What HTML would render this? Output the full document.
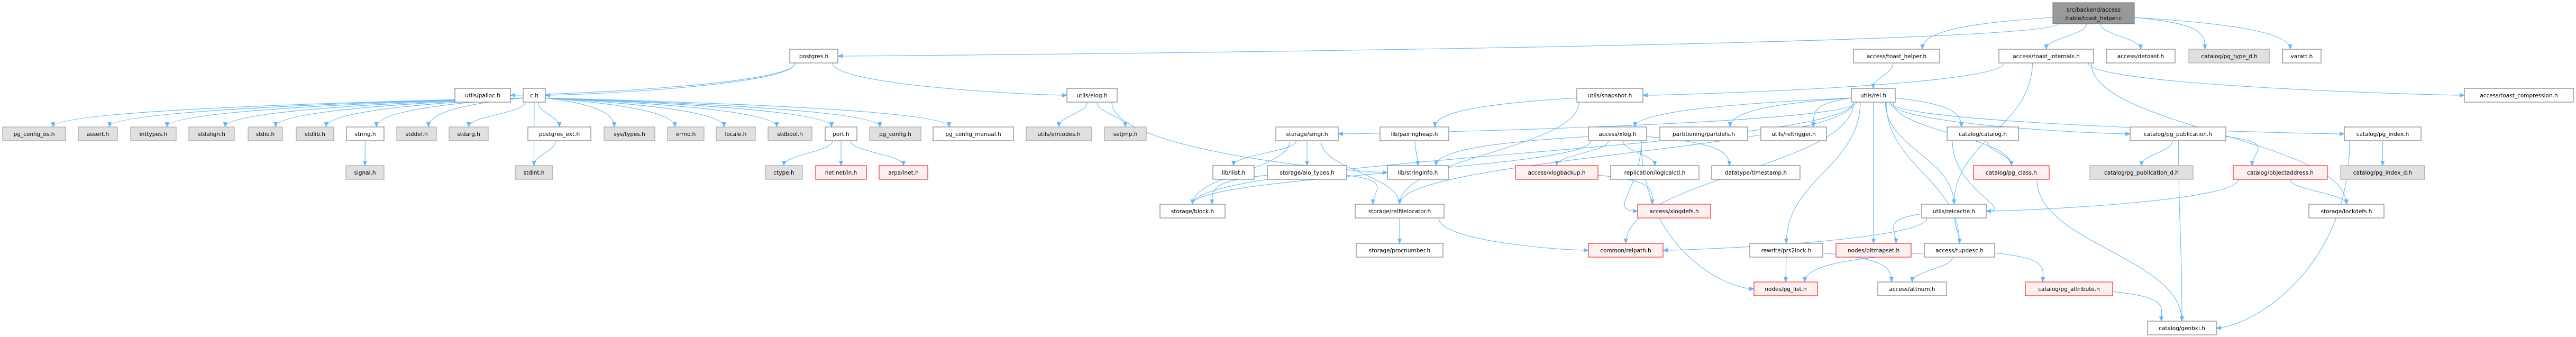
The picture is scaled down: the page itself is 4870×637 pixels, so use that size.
<!DOCTYPE html>
<html><head><meta charset="utf-8">
<style>
html,body{margin:0;padding:0;background:#fff;}
svg{display:block;}
text{font-family:"DejaVu Sans","Liberation Sans",sans-serif;font-size:10.5px;fill:#000;}
.w{fill:#fff;stroke:#666;}
.g{fill:#e0e0e0;stroke:#999;}
.r{fill:#fff0f0;stroke:#f00;}
.m{fill:#999;stroke:#666;}
.e{fill:none;stroke:#63b8ff;stroke-width:1.1;}
</style></head><body>
<svg id="s" width="4870" height="637" viewBox="0 0 4870 637" xmlns="http://www.w3.org/2000/svg">
<defs><marker id="a" viewBox="0 0 10 10" refX="10" refY="5" markerWidth="9" markerHeight="9" orient="auto-start-reverse" markerUnits="userSpaceOnUse"><path d="M0,1 L10,5 L0,9 z" fill="#63b8ff" stroke="#63b8ff"/></marker></defs>
<g id="edges"></g>
<g id="nodes">
<rect class="m" x="3881" y="5" width="154" height="40"/><text x="3958" y="22" text-anchor="middle">src/backend/access</text><text x="3958" y="38" text-anchor="middle">/table/toast_helper.c</text>
<rect class="w" x="1493" y="93" width="91" height="26"/><text x="1538.5" y="110" text-anchor="middle">postgres.h</text>
<rect class="w" x="3504" y="93" width="163" height="26"/><text x="3585.5" y="110" text-anchor="middle">access/toast_helper.h</text>
<rect class="w" x="3779" y="93" width="179" height="26"/><text x="3868.5" y="110" text-anchor="middle">access/toast_internals.h</text>
<rect class="w" x="3982" y="93" width="130" height="26"/><text x="4047" y="110" text-anchor="middle">access/detoast.h</text>
<rect class="g" x="4138" y="93" width="153" height="26"/><text x="4214.5" y="110" text-anchor="middle">catalog/pg_type_d.h</text>
<rect class="w" x="4315" y="93" width="73" height="26"/><text x="4351.5" y="110" text-anchor="middle">varatt.h</text>
<rect class="w" x="860" y="167" width="105" height="26"/><text x="912.5" y="184" text-anchor="middle">utils/palloc.h</text>
<rect class="w" x="989" y="167" width="42" height="26"/><text x="1010" y="184" text-anchor="middle">c.h</text>
<rect class="w" x="2017" y="167" width="95" height="26"/><text x="2064.5" y="184" text-anchor="middle">utils/elog.h</text>
<rect class="w" x="2981" y="167" width="125" height="26"/><text x="3043.5" y="184" text-anchor="middle">utils/snapshot.h</text>
<rect class="w" x="3500" y="167" width="83" height="26"/><text x="3541.5" y="184" text-anchor="middle">utils/rel.h</text>
<rect class="w" x="4659" y="167" width="206" height="26"/><text x="4762" y="184" text-anchor="middle">access/toast_compression.h</text>
<rect class="g" x="5" y="240" width="119" height="26"/><text x="64.5" y="257" text-anchor="middle">pg_config_os.h</text>
<rect class="g" x="148" y="240" width="74" height="26"/><text x="185" y="257" text-anchor="middle">assert.h</text>
<rect class="g" x="247" y="240" width="86" height="26"/><text x="290" y="257" text-anchor="middle">inttypes.h</text>
<rect class="g" x="357" y="240" width="86" height="26"/><text x="400" y="257" text-anchor="middle">stdalign.h</text>
<rect class="g" x="469" y="240" width="65" height="26"/><text x="501.5" y="257" text-anchor="middle">stdio.h</text>
<rect class="g" x="560" y="240" width="71" height="26"/><text x="595.5" y="257" text-anchor="middle">stdlib.h</text>
<rect class="w" x="655" y="240" width="71" height="26"/><text x="690.5" y="257" text-anchor="middle">string.h</text>
<rect class="g" x="750" y="240" width="75" height="26"/><text x="787.5" y="257" text-anchor="middle">stddef.h</text>
<rect class="g" x="849" y="240" width="74" height="26"/><text x="886" y="257" text-anchor="middle">stdarg.h</text>
<rect class="w" x="998" y="240" width="119" height="26"/><text x="1057.5" y="257" text-anchor="middle">postgres_ext.h</text>
<rect class="g" x="1142" y="240" width="96" height="26"/><text x="1190" y="257" text-anchor="middle">sys/types.h</text>
<rect class="g" x="1262" y="240" width="69" height="26"/><text x="1296.5" y="257" text-anchor="middle">errno.h</text>
<rect class="g" x="1354" y="240" width="74" height="26"/><text x="1391" y="257" text-anchor="middle">locale.h</text>
<rect class="g" x="1452" y="240" width="83" height="26"/><text x="1493.5" y="257" text-anchor="middle">stdbool.h</text>
<rect class="w" x="1560" y="240" width="60" height="26"/><text x="1590" y="257" text-anchor="middle">port.h</text>
<rect class="g" x="1644" y="240" width="97" height="26"/><text x="1692.5" y="257" text-anchor="middle">pg_config.h</text>
<rect class="w" x="1764" y="240" width="152" height="26"/><text x="1840" y="257" text-anchor="middle">pg_config_manual.h</text>
<rect class="g" x="1940" y="240" width="124" height="26"/><text x="2002" y="257" text-anchor="middle">utils/errcodes.h</text>
<rect class="g" x="2088" y="240" width="79" height="26"/><text x="2127.5" y="257" text-anchor="middle">setjmp.h</text>
<rect class="w" x="2412" y="240" width="118" height="26"/><text x="2471" y="257" text-anchor="middle">storage/smgr.h</text>
<rect class="w" x="2609" y="240" width="130" height="26"/><text x="2674" y="257" text-anchor="middle">lib/pairingheap.h</text>
<rect class="w" x="3003" y="240" width="110" height="26"/><text x="3058" y="257" text-anchor="middle">access/xlog.h</text>
<rect class="w" x="3138" y="240" width="166" height="26"/><text x="3221" y="257" text-anchor="middle">partitioning/partdefs.h</text>
<rect class="w" x="3329" y="240" width="124" height="26"/><text x="3391" y="257" text-anchor="middle">utils/reltrigger.h</text>
<rect class="w" x="3681" y="240" width="135" height="26"/><text x="3748.5" y="257" text-anchor="middle">catalog/catalog.h</text>
<rect class="w" x="4027" y="240" width="181" height="26"/><text x="4117.5" y="257" text-anchor="middle">catalog/pg_publication.h</text>
<rect class="w" x="4432" y="240" width="145" height="26"/><text x="4504.5" y="257" text-anchor="middle">catalog/pg_index.h</text>
<rect class="g" x="654" y="313" width="72" height="26"/><text x="690" y="330" text-anchor="middle">signal.h</text>
<rect class="g" x="974" y="313" width="71" height="26"/><text x="1009.5" y="330" text-anchor="middle">stdint.h</text>
<rect class="g" x="1447" y="313" width="70" height="26"/><text x="1482" y="330" text-anchor="middle">ctype.h</text>
<rect class="r" x="1542" y="313" width="96" height="26"/><text x="1590" y="330" text-anchor="middle">netinet/in.h</text>
<rect class="r" x="1662" y="313" width="92" height="26"/><text x="1708" y="330" text-anchor="middle">arpa/inet.h</text>
<rect class="w" x="2293" y="313" width="78" height="26"/><text x="2332" y="330" text-anchor="middle">lib/ilist.h</text>
<rect class="w" x="2396" y="313" width="150" height="26"/><text x="2471" y="330" text-anchor="middle">storage/aio_types.h</text>
<rect class="w" x="2623" y="313" width="115" height="26"/><text x="2680.5" y="330" text-anchor="middle">lib/stringinfo.h</text>
<rect class="r" x="2865" y="313" width="156" height="26"/><text x="2943" y="330" text-anchor="middle">access/xlogbackup.h</text>
<rect class="w" x="3045" y="313" width="167" height="26"/><text x="3128.5" y="330" text-anchor="middle">replication/logicalctl.h</text>
<rect class="w" x="3236" y="313" width="167" height="26"/><text x="3319.5" y="330" text-anchor="middle">datatype/timestamp.h</text>
<rect class="r" x="3731" y="313" width="143" height="26"/><text x="3802.5" y="330" text-anchor="middle">catalog/pg_class.h</text>
<rect class="g" x="3951" y="313" width="195" height="26"/><text x="4048.5" y="330" text-anchor="middle">catalog/pg_publication_d.h</text>
<rect class="r" x="4222" y="313" width="178" height="26"/><text x="4311" y="330" text-anchor="middle">catalog/objectaddress.h</text>
<rect class="g" x="4425" y="313" width="159" height="26"/><text x="4504.5" y="330" text-anchor="middle">catalog/pg_index_d.h</text>
<rect class="w" x="2193" y="386" width="123" height="26"/><text x="2254.5" y="403" text-anchor="middle">storage/block.h</text>
<rect class="w" x="2562" y="386" width="168" height="26"/><text x="2646" y="403" text-anchor="middle">storage/relfilelocator.h</text>
<rect class="r" x="3096" y="386" width="138" height="26"/><text x="3165" y="403" text-anchor="middle">access/xlogdefs.h</text>
<rect class="w" x="3633" y="386" width="122" height="26"/><text x="3694" y="403" text-anchor="middle">utils/relcache.h</text>
<rect class="w" x="4365" y="386" width="142" height="26"/><text x="4436" y="403" text-anchor="middle">storage/lockdefs.h</text>
<rect class="w" x="2564" y="460" width="164" height="26"/><text x="2646" y="477" text-anchor="middle">storage/procnumber.h</text>
<rect class="r" x="3003" y="460" width="141" height="26"/><text x="3073.5" y="477" text-anchor="middle">common/relpath.h</text>
<rect class="w" x="3308" y="460" width="138" height="26"/><text x="3377" y="477" text-anchor="middle">rewrite/prs2lock.h</text>
<rect class="r" x="3471" y="460" width="142" height="26"/><text x="3542" y="477" text-anchor="middle">nodes/bitmapset.h</text>
<rect class="w" x="3638" y="460" width="133" height="26"/><text x="3704.5" y="477" text-anchor="middle">access/tupdesc.h</text>
<rect class="r" x="3316" y="533" width="120" height="26"/><text x="3376" y="550" text-anchor="middle">nodes/pg_list.h</text>
<rect class="w" x="3550" y="533" width="130" height="26"/><text x="3615" y="550" text-anchor="middle">access/attnum.h</text>
<rect class="r" x="3829" y="533" width="165" height="26"/><text x="3911.5" y="550" text-anchor="middle">catalog/pg_attribute.h</text>
<rect class="w" x="4060" y="607" width="130" height="26"/><text x="4125" y="624" text-anchor="middle">catalog/genbki.h</text>
</g>
</svg>
<script>
(function(){
var N={};
document.querySelectorAll('#nodes rect').forEach(function(r){
  var t=r.nextElementSibling, name=t.textContent;
  if(r.classList.contains('m')) name='MAIN';
  N[name]={x:+r.getAttribute('x'),y:+r.getAttribute('y'),w:+r.getAttribute('width'),h:+r.getAttribute('height')};
});
var E=[
['MAIN','postgres.h'],['MAIN','access/toast_helper.h'],['MAIN','access/toast_internals.h'],['MAIN','access/detoast.h'],['MAIN','catalog/pg_type_d.h'],['MAIN','varatt.h'],
['postgres.h','utils/palloc.h'],['postgres.h','c.h'],['postgres.h','utils/elog.h'],
['c.h','pg_config_os.h'],['c.h','assert.h'],['c.h','inttypes.h'],['c.h','stdalign.h'],['c.h','stdio.h'],['c.h','stdlib.h'],['c.h','string.h'],['c.h','stddef.h'],['c.h','stdarg.h'],['c.h','stdint.h'],['c.h','postgres_ext.h'],['c.h','sys/types.h'],['c.h','errno.h'],['c.h','locale.h'],['c.h','stdbool.h'],['c.h','port.h'],['c.h','pg_config.h'],['c.h','pg_config_manual.h'],
['string.h','signal.h'],['postgres_ext.h','stdint.h'],
['port.h','ctype.h'],['port.h','netinet/in.h'],['port.h','arpa/inet.h'],
['utils/elog.h','utils/errcodes.h'],['utils/elog.h','setjmp.h'],['utils/elog.h','lib/stringinfo.h'],
['access/toast_helper.h','utils/rel.h'],
['access/toast_internals.h','utils/snapshot.h'],['access/toast_internals.h','access/toast_compression.h'],['access/toast_internals.h','storage/lockdefs.h'],['access/toast_internals.h','utils/relcache.h'],
['utils/snapshot.h','lib/pairingheap.h'],['utils/snapshot.h','storage/relfilelocator.h'],
['lib/pairingheap.h','lib/stringinfo.h'],
['utils/rel.h','storage/smgr.h'],['utils/rel.h','storage/block.h'],['utils/rel.h','access/xlog.h'],['utils/rel.h','partitioning/partdefs.h'],['utils/rel.h','utils/reltrigger.h'],['utils/rel.h','storage/relfilelocator.h'],['utils/rel.h','catalog/catalog.h'],['utils/rel.h','catalog/pg_class.h'],['utils/rel.h','catalog/pg_publication.h'],['utils/rel.h','catalog/pg_index.h'],['utils/rel.h','utils/relcache.h'],['utils/rel.h','nodes/bitmapset.h'],['utils/rel.h','access/tupdesc.h'],['utils/rel.h','rewrite/prs2lock.h'],['utils/rel.h','common/relpath.h'],
['storage/smgr.h','storage/block.h'],['storage/smgr.h','lib/ilist.h'],['storage/smgr.h','storage/aio_types.h'],['storage/smgr.h','storage/relfilelocator.h'],
['storage/aio_types.h','storage/block.h'],['storage/aio_types.h','storage/relfilelocator.h'],
['storage/relfilelocator.h','storage/procnumber.h'],['storage/relfilelocator.h','common/relpath.h'],
['access/xlog.h','lib/stringinfo.h'],['access/xlog.h','access/xlogbackup.h'],['access/xlog.h','replication/logicalctl.h'],['access/xlog.h','datatype/timestamp.h'],['access/xlog.h','access/xlogdefs.h'],['access/xlog.h','nodes/pg_list.h'],['access/xlog.h','storage/block.h'],
['access/xlogbackup.h','access/xlogdefs.h'],
['rewrite/prs2lock.h','nodes/pg_list.h'],['rewrite/prs2lock.h','access/attnum.h'],
['utils/relcache.h','nodes/bitmapset.h'],['utils/relcache.h','access/tupdesc.h'],['utils/relcache.h','common/relpath.h'],
['access/tupdesc.h','access/attnum.h'],['access/tupdesc.h','catalog/pg_attribute.h'],['access/tupdesc.h','nodes/pg_list.h'],
['catalog/pg_attribute.h','catalog/genbki.h'],['catalog/pg_class.h','catalog/genbki.h'],
['catalog/catalog.h','catalog/pg_class.h'],['catalog/catalog.h','utils/relcache.h'],
['catalog/pg_publication.h','catalog/pg_publication_d.h'],['catalog/pg_publication.h','catalog/objectaddress.h'],['catalog/pg_publication.h','catalog/genbki.h'],
['catalog/pg_index.h','catalog/pg_index_d.h'],['catalog/pg_index.h','catalog/genbki.h'],
['catalog/objectaddress.h','utils/relcache.h'],['catalog/objectaddress.h','storage/lockdefs.h']
];
var SIDE={
'MAIN|postgres.h':1,'postgres.h|utils/palloc.h':1,'postgres.h|c.h':1,'postgres.h|utils/elog.h':1,
'access/toast_internals.h|utils/snapshot.h':1,'access/toast_internals.h|access/toast_compression.h':1,
'catalog/objectaddress.h|utils/relcache.h':1,'utils/rel.h|catalog/pg_index.h':1,'utils/rel.h|storage/smgr.h':1,
'utils/relcache.h|common/relpath.h':1,'relfilelocator|':0,'access/xlog.h|access/xlogdefs.h':1,
'catalog/pg_index.h|catalog/genbki.h':1,'catalog/catalog.h|utils/relcache.h':1,'storage/relfilelocator.h|common/relpath.h':1,
'utils/rel.h|catalog/pg_publication.h':1,'utils/elog.h|lib/stringinfo.h':1,'access/xlog.h|nodes/pg_list.h':1
};
var g=document.getElementById('edges'),ns='http://www.w3.org/2000/svg';
E.forEach(function(e){
  var s=N[e[0]],t=N[e[1]]; if(!s||!t) return;
  var scx=s.x+s.w/2,tcx=t.x+t.w/2;
  var dx=tcx-scx, p, sx, sy, tx, ty, dy;
  if(SIDE[e[0]+'|'+e[1]]){
    var left = dx<0;
    sy=s.y+s.h*0.55;
    sx = left? s.x : s.x+s.w;
    tx = left? t.x+t.w : t.x;
    ty = t.y+t.h*0.5;
    if(t.y-s.y>60){ // multi-row: leave from bottom-side corner
      sy=s.y+s.h; sx = left? s.x+10 : s.x+s.w-10;
      p='M'+sx+','+sy+' C'+sx+','+(sy+(ty-sy)*0.7)+' '+(tx+(left?60:-60))+','+ty+' '+tx+','+ty;
    } else {
      p='M'+sx+','+sy+' C'+(sx+dx*0.3)+','+sy+' '+(tx-dx*0.3)+','+ty+' '+tx+','+ty;
    }
  } else {
    sx=scx+Math.max(-s.w/2+4,Math.min(s.w/2-4,dx*0.15));
    sy=s.y+s.h; tx=tcx; ty=t.y; dy=ty-sy;
    if(Math.abs(dx)>dy*3 && dy<60){
      sx = dx<0? s.x : s.x+s.w; sy=s.y+s.h*0.7;
      tx = tcx + (dx<0? t.w*0.3 : -t.w*0.3);
      dy=ty-sy;
      p='M'+sx+','+sy+' C'+(sx+dx*0.5)+','+(sy+dy*0.2)+' '+tx+','+(ty-dy*0.5)+' '+tx+','+ty;
    } else {
      p='M'+sx+','+sy+' C'+sx+','+(sy+dy*0.45)+' '+tx+','+(ty-dy*0.45)+' '+tx+','+ty;
    }
  }
  var path=document.createElementNS(ns,'path');
  path.setAttribute('d',p);path.setAttribute('class','e');path.setAttribute('marker-end','url(#a)');
  g.appendChild(path);
});
})();
</script>
</body></html>
